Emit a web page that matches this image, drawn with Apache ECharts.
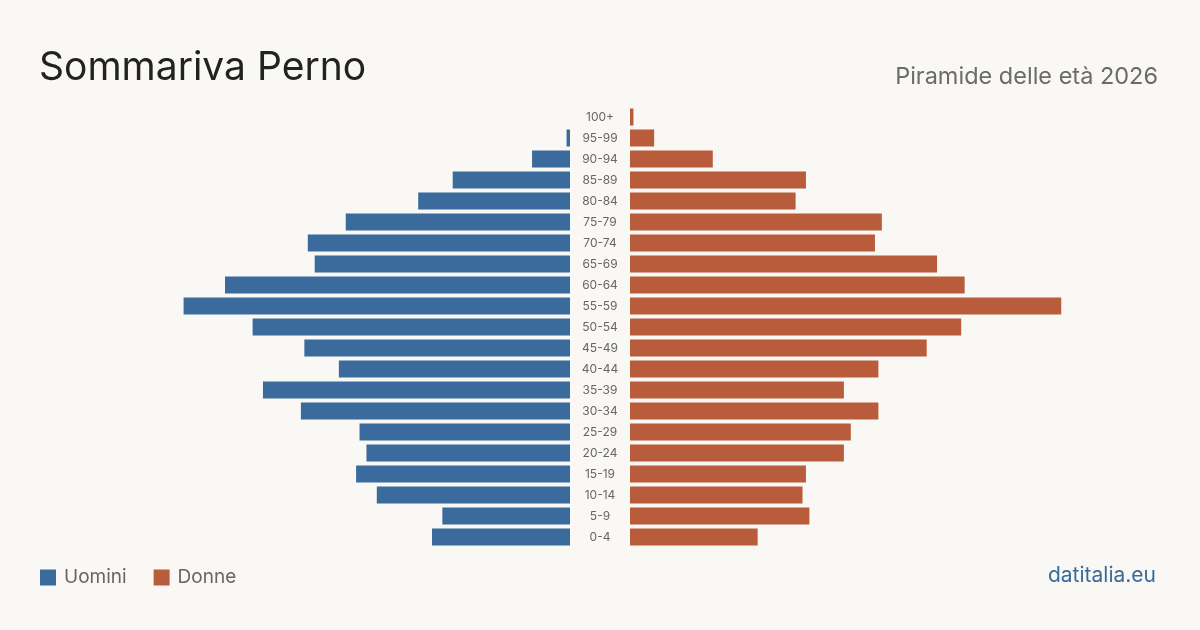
<!DOCTYPE html>
<html>
<head>
<meta charset="utf-8">
<script src="https://cdn.jsdelivr.net/npm/echarts@6/dist/echarts.min.js"></script>
<style>
    html, body { margin: 0; padding: 0; background: #f9f8f4; }
    #chart { width: 1200px; height: 630px; }
</style>
</head>
<body>
<div id="chart"></div>
<script>
    // classi di età, dal basso verso l'alto
    const ages = ['0-4', '5-9', '10-14', '15-19', '20-24', '25-29', '30-34', '35-39', '40-44', '45-49',
        '50-54', '55-59', '60-64', '65-69', '70-74', '75-79', '80-84', '85-89', '90-94', '95-99', '100+'];
    const uomini = [40, 37, 56, 62, 59, 61, 78, 89, 67, 77, 92, 112, 100, 74, 76, 65, 44, 34, 11, 1, 0];
    const donne = [37, 52, 50, 51, 62, 64, 72, 62, 72, 86, 96, 125, 97, 89, 71, 73, 48, 51, 24, 7, 1];

    const blue = '#3a6b9c';
    const red = '#b95c3c';
    const fontFamily = 'Inter, "Noto Sans", sans-serif';
    const axisMax = 130;

    const chart = echarts.init(document.getElementById('chart'));
    chart.setOption({
        backgroundColor: '#f9f8f4',
        textStyle: { fontFamily: fontFamily },
        title: [{
            text: 'Sommariva Perno',
            left: 34,
            top: 44,
            textStyle: { fontSize: 39, fontWeight: 'normal', color: '#222', fontFamily: fontFamily }
        }, {
            text: 'Piramide delle età 2026',
            right: 37,
            top: 60,
            textStyle: { fontSize: 23.5, fontWeight: 'normal', color: '#6b6b6b', fontFamily: fontFamily }
        }, {
            text: 'datitalia.eu',
            right: 39,
            top: 560,
            textStyle: { fontSize: 21, fontWeight: 'normal', color: blue, fontFamily: fontFamily }
        }],
        legend: {
            left: 35,
            top: 563,
            icon: 'rect',
            itemWidth: 16,
            itemHeight: 16,
            itemGap: 27,
            textStyle: { fontSize: 19, color: '#666', fontFamily: fontFamily, padding: [0, 0, 0, 3] },
            data: ['Uomini', 'Donne']
        },
        grid: [
            { left: 121.5, width: 448.5, top: 106.5, height: 441 },
            { left: 630, width: 448.5, top: 106.5, height: 441 }
        ],
        xAxis: [
            { gridIndex: 0, type: 'value', inverse: true, min: 0, max: axisMax, show: false },
            { gridIndex: 1, type: 'value', min: 0, max: axisMax, show: false }
        ],
        yAxis: [
            {
                gridIndex: 0, type: 'category', data: ages, position: 'right',
                axisLine: { show: false }, axisTick: { show: false }, axisLabel: { show: false }
            },
            {
                gridIndex: 1, type: 'category', data: ages, position: 'left',
                axisLine: { show: false }, axisTick: { show: false },
                axisLabel: { margin: 30, align: 'center', fontSize: 12, color: '#666', fontFamily: fontFamily }
            }
        ],
        series: [{
            name: 'Uomini',
            type: 'bar',
            xAxisIndex: 0,
            yAxisIndex: 0,
            barWidth: 17,
            itemStyle: { color: blue },
            data: uomini
        }, {
            name: 'Donne',
            type: 'bar',
            xAxisIndex: 1,
            yAxisIndex: 1,
            barWidth: 17,
            itemStyle: { color: red },
            data: donne
        }]
    });
</script>
</body>
</html>
